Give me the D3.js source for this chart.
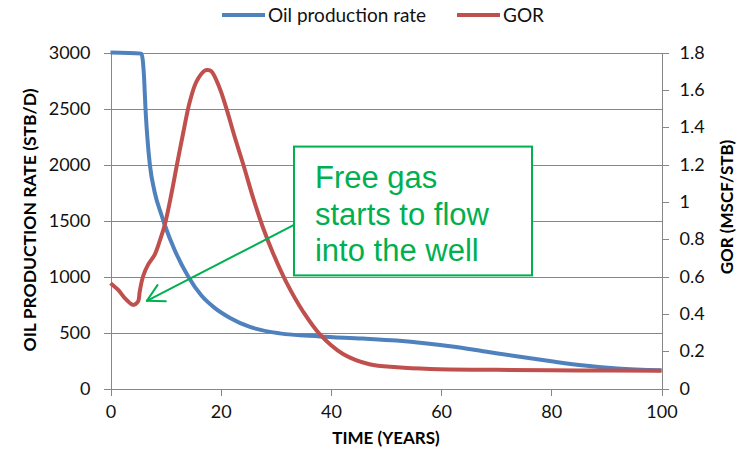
<!DOCTYPE html>
<html>
<head>
<meta charset="utf-8">
<script src="https://d3js.org/d3.v7.min.js"></script>
<style>
body { margin: 0; background: #fff; }
svg { font-family: Lato, "Open Sans", sans-serif; }
.grid line { stroke: #878787; stroke-width: 1px; shape-rendering: crispEdges; }
.grid path { stroke-width: 0; }
.axis path, .axis line { stroke: #878787; stroke-width: 1px; shape-rendering: crispEdges; }
.axis text { font-size: 18px; fill: #111; font-family: Lato, sans-serif; }
.line { fill: none; stroke-width: 4px; stroke-linejoin: round; }
.title { font-size: 17.5px; font-weight: bold; fill: #000; }
</style>
</head>
<body>
<svg></svg>
<script>
// oil production rate (STB/D) vs time (years)
var oilTime = [0, 5.6, 6.1, 6.35, 6.7, 7.15, 8.0, 9.25, 9.85, 11.7, 14.1, 16.5, 18.9, 21.7, 25.3, 30.7, 38, 45.8, 51.9, 57, 62, 68, 74, 80, 86, 92, 100];
var oilRate = [3000, 2990, 2770, 2500, 2234, 1996, 1757, 1549, 1460, 1230, 1000, 830, 720, 630, 550, 492, 465, 446, 428, 405, 375, 330, 285, 243, 205, 178, 162];

// GOR (MSCF/STB) vs time (years)
var gorTime = [0, 1.4, 2.6, 4.1, 5, 5.3, 5.9, 6.8, 8, 8.9, 9.85, 11.1, 12, 13.2, 14.4, 15.6, 17.1, 17.6, 18.3, 19.8, 21, 22.6, 24.1, 25.9, 27.7, 29.5, 31.9, 35, 38, 42.2, 47, 52, 58, 70, 85, 100];
var gorValue = [0.564, 0.528, 0.484, 0.448, 0.466, 0.519, 0.6, 0.662, 0.716, 0.788, 0.877, 1.05, 1.19, 1.37, 1.537, 1.644, 1.703, 1.706, 1.7, 1.61, 1.503, 1.342, 1.2, 1.02, 0.86, 0.725, 0.57, 0.41, 0.29, 0.185, 0.13, 0.114, 0.105, 0.1, 0.097, 0.095];

var xTicks = [0, 20, 40, 60, 80, 100];
var leftTicks = [0, 500, 1000, 1500, 2000, 2500, 3000];
var rightTicks = [0, 0.2, 0.4, 0.6, 0.8, 1, 1.2, 1.4, 1.6, 1.8];

var seriesNames = ["Oil production rate", "GOR"];
var seriesColors = ["#4F81BD", "#C0504D"];

var noteLines = ["Free gas", "starts to flow", "into the well"];

var width = 745, height = 450;
var svg = d3.select("svg").attr("width", width).attr("height", height);

var x = d3.scaleLinear().domain([0, 100]).range([110.5, 661.5]);
var yL = d3.scaleLinear().domain([0, 3000]).range([388.5, 52.5]);
var yR = d3.scaleLinear().domain([0, 1.8]).range([388.5, 52.5]);

// horizontal gridlines
svg.append("g")
    .attr("class", "grid")
    .attr("transform", "translate(" + x(0) + ",0)")
    .call(d3.axisLeft(yL).tickValues(leftTicks).tickSize(-(x(100) - x(0))).tickFormat(""));

// left axis
svg.append("g")
    .attr("class", "axis")
    .attr("transform", "translate(" + x(0) + ",0)")
    .call(d3.axisLeft(yL).tickValues(leftTicks).tickSize(7).tickSizeOuter(0).tickPadding(13)
        .tickFormat(d3.format("d")));

// right axis
svg.append("g")
    .attr("class", "axis")
    .attr("transform", "translate(" + x(100) + ",0)")
    .call(d3.axisRight(yR).tickValues(rightTicks).tickSize(7).tickSizeOuter(0).tickPadding(11)
        .tickFormat(function(d) { return d3.format("")(+d.toFixed(1)); }));

// bottom axis
svg.append("g")
    .attr("class", "axis")
    .attr("transform", "translate(0," + yL(0) + ")")
    .call(d3.axisBottom(x).tickValues(xTicks).tickSize(7).tickSizeOuter(0).tickPadding(10));

// axis titles
svg.append("text")
    .attr("class", "title")
    .attr("transform", "translate(36,220) rotate(-90)")
    .attr("text-anchor", "middle")
    .text("OIL PRODUCTION RATE  (STB/D)");

svg.append("text")
    .attr("class", "title")
    .attr("transform", "translate(733,207) rotate(-90)")
    .attr("text-anchor", "middle")
    .style("font-size", "17px")
    .text("GOR (MSCF/STB)");

svg.append("text")
    .attr("class", "title")
    .attr("x", (x(0) + x(100)) / 2)
    .attr("y", 444)
    .attr("text-anchor", "middle")
    .style("font-size", "17px")
    .text("TIME (YEARS)");

// series
var oilData = oilTime.map(function(t, i) { return [t, oilRate[i]]; });
var gorData = gorTime.map(function(t, i) { return [t, gorValue[i]]; });

svg.append("path")
    .datum(oilData)
    .attr("class", "line")
    .style("stroke", seriesColors[0])
    .attr("d", d3.line().x(function(d) { return x(d[0]); }).y(function(d) { return yL(d[1]); }).curve(d3.curveMonotoneX));

svg.append("path")
    .datum(gorData)
    .attr("class", "line")
    .style("stroke", seriesColors[1])
    .attr("d", d3.line().x(function(d) { return x(d[0]); }).y(function(d) { return yR(d[1]); }).curve(d3.curveCatmullRom.alpha(0.5)));

// legend
var legendX = [222, 457];
seriesNames.forEach(function(name, i) {
    var g = svg.append("g").attr("transform", "translate(" + legendX[i] + ",15)");
    g.append("line")
        .attr("x1", 0).attr("x2", 43)
        .style("stroke", seriesColors[i])
        .style("stroke-width", "4px");
    g.append("text")
        .attr("x", 46).attr("y", 6.5)
        .style("font-size", "19px")
        .style("fill", "#111")
        .text(name);
});

// annotation arrow (data coordinates)
var arrowFrom = [33.3, 1460];
var arrowTip = [6.6, 783];
var ax1 = x(arrowFrom[0]), ay1 = yL(arrowFrom[1]);
var ax2 = x(arrowTip[0]), ay2 = yL(arrowTip[1]);
svg.append("line")
    .attr("x1", ax1).attr("y1", ay1)
    .attr("x2", ax2).attr("y2", ay2)
    .style("stroke", "#00B050")
    .style("stroke-width", "2px");
var ang = Math.atan2(ay1 - ay2, ax1 - ax2);
[-0.5, 0.5].forEach(function(da) {
    svg.append("line")
        .attr("x1", ax2).attr("y1", ay2)
        .attr("x2", ax2 + 19 * Math.cos(ang + da))
        .attr("y2", ay2 + 19 * Math.sin(ang + da))
        .style("stroke", "#00B050")
        .style("stroke-width", "2px")
        .style("stroke-linecap", "round");
});

// annotation box
var boxT = [33.3, 76.5], boxV = [2160, 1010];
svg.append("rect")
    .attr("x", x(boxT[0])).attr("y", yL(boxV[0]))
    .attr("width", x(boxT[1]) - x(boxT[0]))
    .attr("height", yL(boxV[1]) - yL(boxV[0]))
    .style("fill", "#fff")
    .style("stroke", "#00B050")
    .style("stroke-width", "2px");

svg.append("g").selectAll("text")
    .data(noteLines)
    .enter().append("text")
    .attr("x", x(boxT[0]) + 21)
    .attr("y", function(d, i) { return 188 + i * 36.5; })
    .style("font-family", "'Liberation Sans', Arial, sans-serif")
    .style("font-size", "31px")
    .style("fill", "#00B050")
    .text(function(d) { return d; });
</script>
</body>
</html>
